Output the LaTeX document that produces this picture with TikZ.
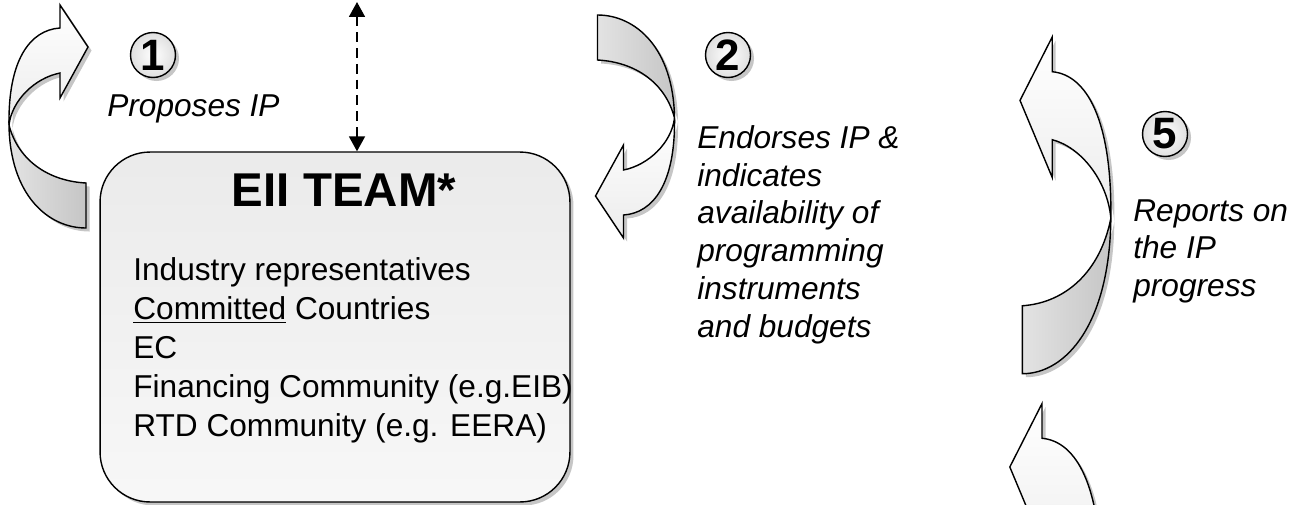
\documentclass[tikz,border=0pt]{standalone}
\usepackage{fontspec}
\setmainfont{Liberation Sans}
\usetikzlibrary{arrows.meta,shadows,positioning}

\tikzset{
  shd/.style={drop shadow={shadow xshift=2pt,shadow yshift=-2pt,opacity=.45}},
  curvarrow/.pic={
    % back half (tail)
    \path[draw=black,thick,left color=gray!22,right color=gray!45,shd]
      (9,125) .. controls (10,195) and (48,228) .. (86,228) -- (86,183)
      .. controls (48,181) and (18,160) .. (9,125) -- cycle;
    % front half with the head
    \path[draw=black,thick,top color=white,bottom color=gray!15,shd]
      (9,125) .. controls (8,60) and (30,30) .. (60,28) -- (60,5) -- (88,47)
      -- (60,98) -- (60,73) .. controls (35,78) and (12,100) .. (9,125) -- cycle;
  },
  team/.style={draw,thick,rounded corners=1cm,minimum width=9.4cm,minimum height=7cm,
    top color=gray!16,bottom color=gray!6,shd},
  numcirc/.style={circle,draw,thick,minimum size=0.9cm,inner sep=0pt,
    shading=radial,inner color=white,outer color=gray!25,shd,
    font=\fontsize{25}{25}\selectfont\bfseries},
  note/.style={anchor=north west,inner sep=0pt,align=left,
    font=\fontsize{18}{21.5}\selectfont\itshape},
}

\begin{document}
\begin{tikzpicture}[x=0.02cm,y=-0.02cm]
\clip (0,0) rectangle (1310,504);

% curved arrows
\pic at (0,0) {curvarrow};
\pic[rotate=180] at (683.5,243) {curvarrow};
\pic[xscale=-1.15,yscale=1.51] at (1121.2,29.45) {curvarrow};
\pic[xscale=-1.15,yscale=1.51] at (1111,396) {curvarrow};

% the team box
\node[team] (team) at (335,327) {};
\node[font=\fontsize{27}{27}\selectfont\bfseries] (title) at (344,190) {EII TEAM*};
\node[anchor=north west,inner sep=0pt,align=left,font=\fontsize{18}{22.2}\selectfont]
  (members) at (133,257) {Industry representatives\\
  \underline{Committed} Countries\\
  EC\\
  Financing Community (e.g.EIB)\\
  RTD Community (e.g. EERA)};

\coordinate (top) at (357,2);
\draw[line width=1.2pt,dash pattern=on 5.5pt off 3.5pt,
  {Triangle[length=8.5pt,width=9pt]}-{Triangle[length=8.5pt,width=9pt]}]
  (top) -- (top |- team.north);

% steps
\node[numcirc] (n1) at (153,55) {1};
\node[numcirc] (n2) at (728,55) {2};
\node[numcirc] (n5) at (1165,134) {5};

\node[note] (t1) at (107,94) {Proposes IP};
\node[note] (t2) at (697,125) {Endorses IP \&\\indicates\\availability of\\programming\\instruments\\and budgets};
\node[note] (t5) at (1133,199) {Reports on\\the IP\\progress};
\end{tikzpicture}
\end{document}
